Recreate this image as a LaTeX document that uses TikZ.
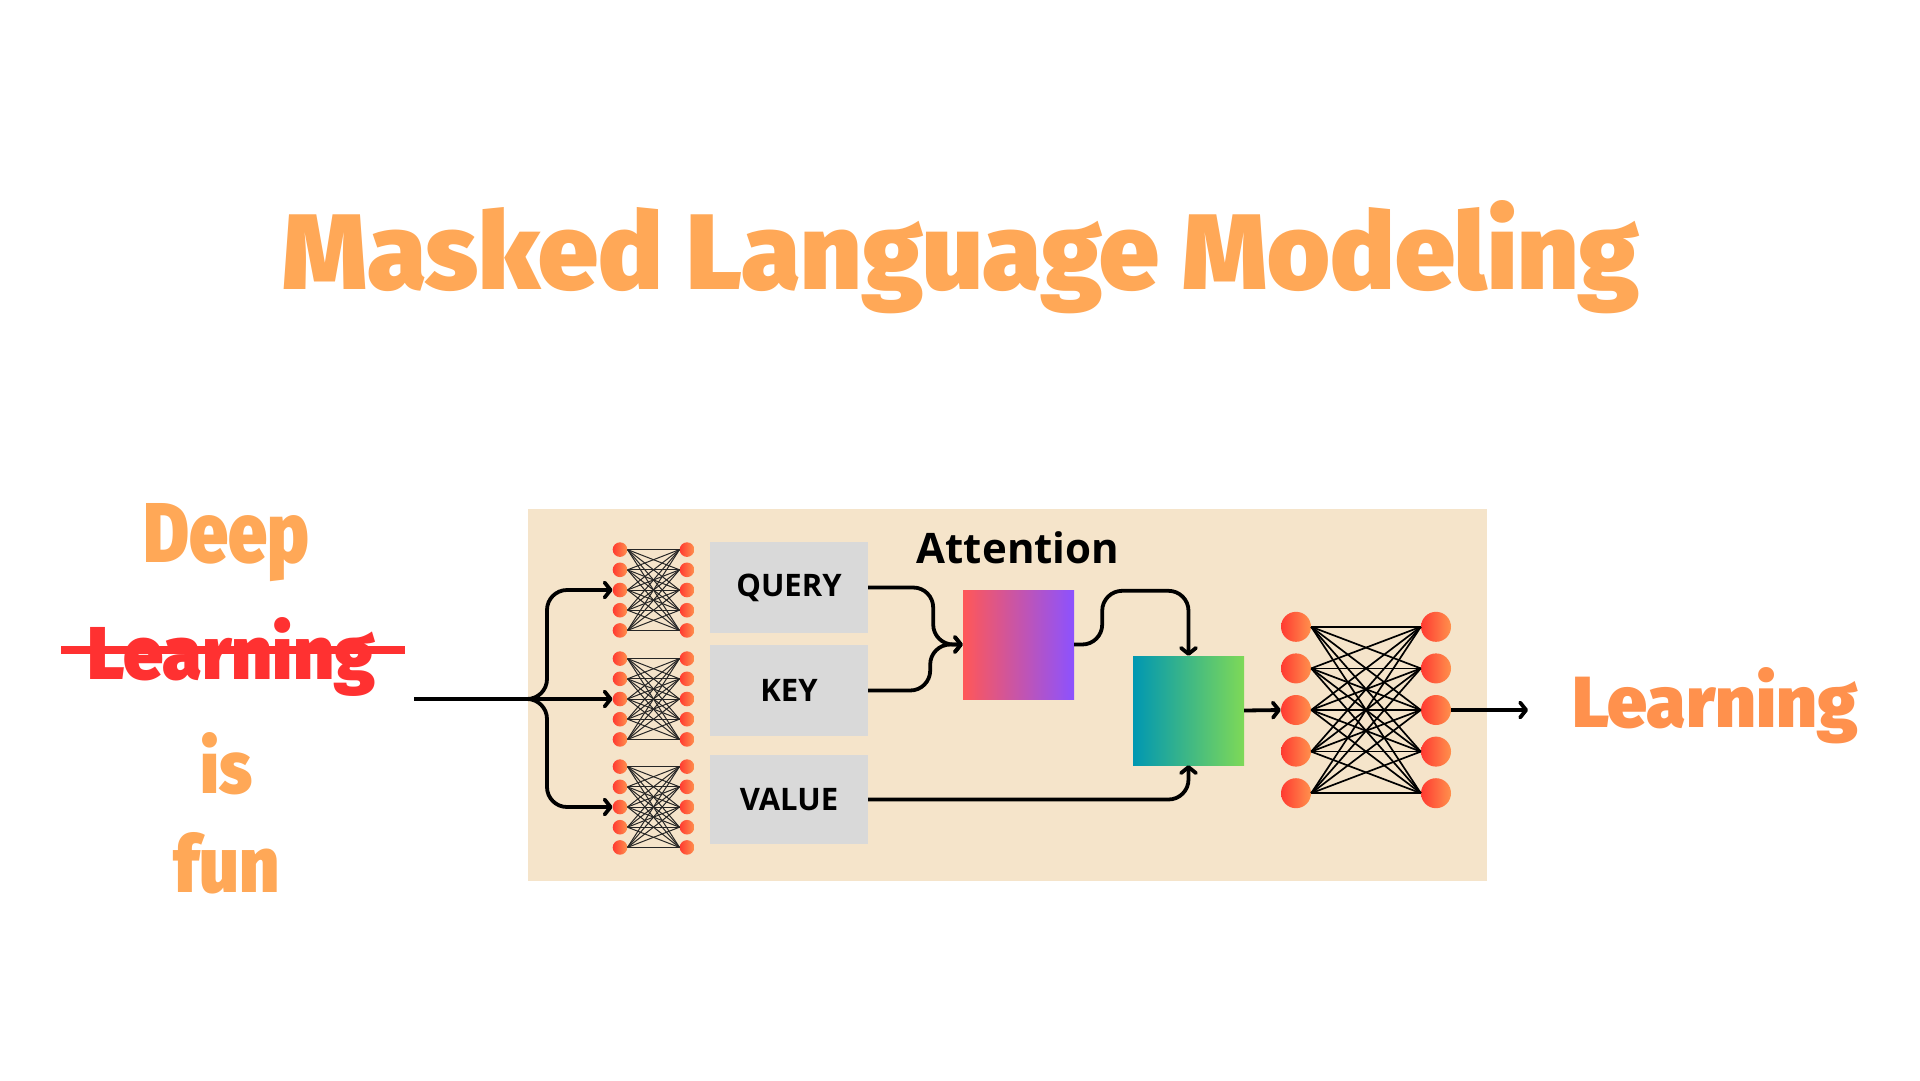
\documentclass[tikz,border=0pt]{standalone}
\usepackage{fontspec}
\usepackage{graphicx}
\usetikzlibrary{arrows.meta, positioning, calc}
\setmainfont{Open Sans}
\newcommand\dispfont{}
\IfFontExistsTF{Fira Sans Black}
  {\newfontfamily\dispraw{Fira Sans Black}\renewcommand\dispfont{\dispraw}}
  {\IfFontExistsTF{Fira Sans Heavy}
    {\newfontfamily\dispraw{Fira Sans Heavy}\renewcommand\dispfont{\dispraw}}
    {\IfFontExistsTF{Lato Black}
      {\newfontfamily\dispraw{Lato Black}\renewcommand\dispfont{\dispraw}}
      {\newfontfamily\dispraw{Fira Sans}[BoldFeatures={FakeBold=2.5}]
       \renewcommand\dispfont{\dispraw\bfseries}}}}
\definecolor{TitleOrange}{HTML}{FFA857}
\definecolor{LearnOrange}{HTML}{FF914D}
\definecolor{StrikeRed}{HTML}{FF3131}
\definecolor{PanelBeige}{HTML}{F5E4CA}
\definecolor{BoxGray}{HTML}{D9D9D9}
\definecolor{AttnPink}{HTML}{FF5757}
\definecolor{AttnPurple}{HTML}{8C52FF}
\definecolor{MixTeal}{HTML}{0097B2}
\definecolor{MixGreen}{HTML}{7ED957}
\definecolor{DotRed}{HTML}{FF3A31}
\definecolor{DotOrange}{HTML}{FF914D}

\begin{document}
\begin{tikzpicture}[x=1pt, y=-1pt,
  word/.style={inner sep=0pt, anchor=base west},
  sdot/.style={circle, inner sep=0pt, minimum size=14.6pt,
               left color=DotRed, right color=DotOrange, draw=none},
  bdot/.style={sdot, minimum size=30pt},
  slink/.style={line width=1pt, black!85},
  blink/.style={line width=1.7pt},
  qkv/.style={fill=BoxGray, minimum width=158pt, minimum height=91pt,
              inner sep=0pt, font=\bfseries\fontsize{31}{31}\selectfont},
  grad/.style={minimum width=111pt, minimum height=109pt, inner sep=0pt},
  conn/.style={line width=3.8pt, rounded corners=20pt,
               -{Straight Barb[length=6pt,width=15pt,round]}},
]
\fill[white] (0,0) rectangle (1920,1080);
\useasboundingbox (0,0) rectangle (1920,1080);

% title
\node[word, text=TitleOrange] (title) at (282,289)
  {\resizebox{1357pt}{89pt}{\dispfont Masked Language Modeling}};

% input sentence
\node[word, text=TitleOrange] (deep) at (143,562) {\resizebox{166pt}{59pt}{\dispfont Deep}};
\node[word, text=StrikeRed] (masked) at (87,679) {\resizebox{288pt}{62pt}{\dispfont Learning}};
\draw[line width=8pt, StrikeRed] (61,650) -- (405,650);
\node[word, text=TitleOrange] (is) at (200,793) {\resizebox{52pt}{61pt}{\dispfont is}};
\node[word, text=TitleOrange] (fun) at (173,892) {\resizebox{106pt}{60pt}{\dispfont fun}};

% model panel
\node[fill=PanelBeige, minimum width=959pt, minimum height=372pt, inner sep=0pt]
  (panel) at (1007.5,695) {};

% small projection nets
\foreach \g/\yc in {1/590,2/699,3/807}{
  \foreach \k in {1,...,5}{
    \node[sdot] (s\g l\k) at (620,{\yc+20.2*(\k-3)}) {};
    \node[sdot] (s\g r\k) at (687,{\yc+20.2*(\k-3)}) {};
  }
  \foreach \a in {1,...,5}
    \foreach \b in {1,...,5}
      \draw[slink] (s\g l\a.east) -- (s\g r\b.west);
}

\node[qkv] (query) at (789,587.5) {QUERY};
\node[qkv] (key) at (789,690.5) {KEY};
\node[qkv, minimum height=89pt] (value) at (789,799.5) {VALUE};

\node[anchor=base, inner sep=0pt, font=\bfseries\fontsize{42}{42}\selectfont]
  (attn) at (1018,563) {Attention};
\node[grad, left color=AttnPink, right color=AttnPurple] (scores) at (1018.5,644.5) {};
\node[grad, left color=MixTeal, right color=MixGreen] (mix) at (1188.5,710.5) {};

% output net
\foreach \k in {1,...,5}{
  \node[bdot] (bl\k) at (1296,{710+41.6*(\k-3)}) {};
  \node[bdot] (br\k) at (1436,{710+41.6*(\k-3)}) {};
}
\foreach \a in {1,...,5}
  \foreach \b in {1,...,5}
    \draw[blink] (bl\a.east) -- (br\b.west);

\node[word, text=LearnOrange] (answer) at (1572,727)
  {\resizebox{286pt}{60pt}{\dispfont Learning}};

% connectors
\coordinate (inp) at (414,699);
\coordinate (split) at (547,699);
\coordinate (outtip) at (1528,710);
\draw[conn] (inp) -- (split) |- (s1l3.west);
\draw[conn] (inp) -- (s2l3.west);
\draw[conn] (inp) -- (split) |- (s3l3.west);
\draw[conn] (query.east) -- ++(65,0) |- (scores.west);
\draw[conn] (key.east) -- ++(62,0) |- (scores.west);
\draw[conn] (scores.east) -- ++(28,0) |- ([yshift=65pt]mix.north) -- (mix.north);
\draw[conn] (value.east) -| (mix.south);
\draw[conn] (mix.east) -- (bl3.west);
\draw[conn] (br3.east) -- (outtip);
\end{tikzpicture}
\end{document}
